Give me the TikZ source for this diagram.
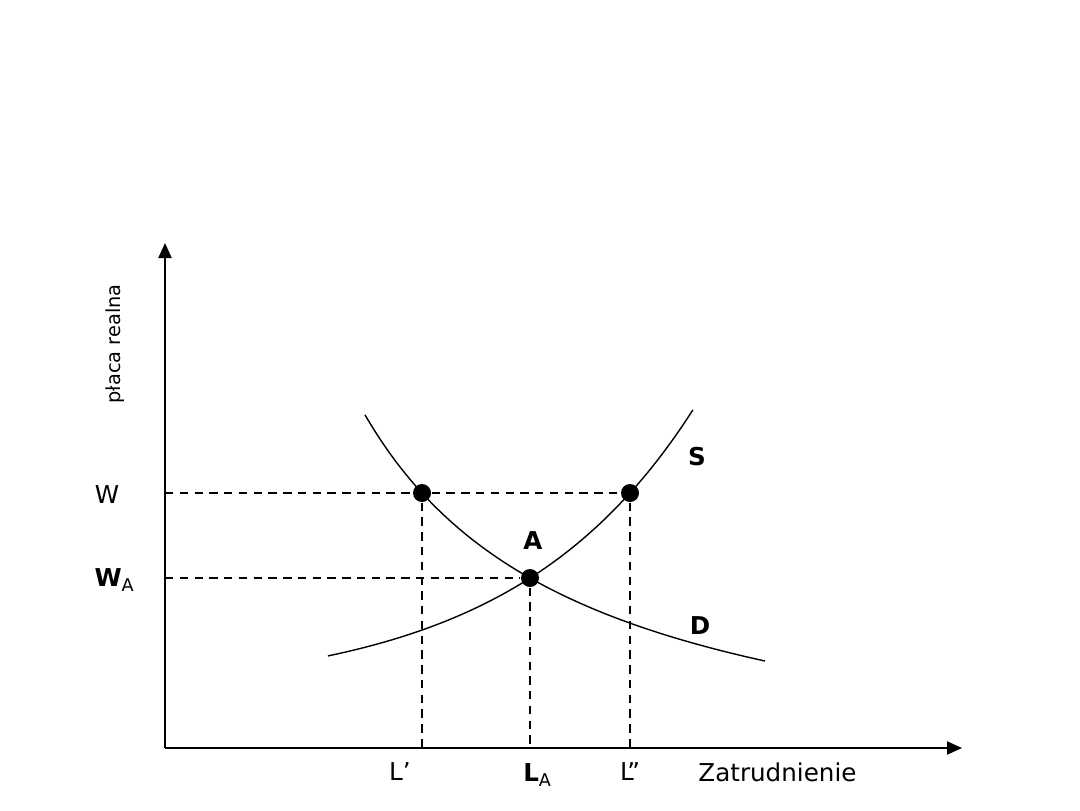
\documentclass[tikz,border=0pt]{standalone}
\usepackage{fontspec}
\setmainfont{DejaVu Sans}
\usetikzlibrary{arrows.meta,positioning}
\tikzset{
  axis/.style={-{Triangle[length=1.5mm,width=1.3mm]}, line width=0.6pt},
  curve/.style={line width=0.4pt, samples=80},
  guide/.style={dash pattern=on 2.4pt off 1.8pt, line width=0.5pt},
  dot/.style={circle, fill, inner sep=0pt, minimum size=1.8mm},
  lbl/.style={font=\fontsize{7}{8}\selectfont},
  blbl/.style={font=\fontsize{7}{8}\selectfont\bfseries},
}

\begin{document}
\begin{tikzpicture}
  \useasboundingbox (0,0) rectangle (10.8,8.1);

  % axes
  \coordinate (O) at (1.65,0.62);
  \coordinate (ytop) at (1.65,5.67);
  \coordinate (xend) at (9.62,0.62);
  \draw[axis] (O) -- (ytop);
  \draw[axis] (O) -- (xend);
  \node[font=\fontsize{5.5}{6}\selectfont, rotate=90] (ylab) at (1.15,4.66) {płaca realna};
  \node[lbl, anchor=west] (xlab) at (6.86,0.38) {Zatrudnienie};

  % demand and supply
  \draw[curve, domain=3.65:7.65] plot (\x,{0.122+8.513/(\x-1.427)});
  \draw[curve, domain=3.28:6.93] plot (\x,{1.159+0.0629*exp(0.55*\x)});
  \node[blbl] (labS) at (6.97,3.53) {S};
  \node[blbl] (labD) at (7.00,1.84) {D};
  \node[blbl] (labA) at (5.33,2.69) {A};

  % equilibrium and the two points at wage W
  \node[dot] (pA) at (5.30,2.32) {};
  \node[dot] (pD) at (4.22,3.17) {};
  \node[dot] (pS) at (6.30,3.17) {};

  % guides to the axes
  \coordinate (yW) at (1.65,3.17);
  \coordinate (yWA) at (1.65,2.32);
  \coordinate (xL1) at (4.22,0.62);
  \coordinate (xLA) at (5.30,0.62);
  \coordinate (xL2) at (6.30,0.62);
  \draw[guide] (yW) -- (pD) -- (pS);
  \draw[guide] (yWA) -- (pA);
  \draw[guide] (pD) -- (xL1);
  \draw[guide] (pA) -- (xLA);
  \draw[guide] (pS) -- (xL2);

  \node[lbl] (labW) at (1.07,3.15) {W};
  \node[lbl] (labWA) at (1.15,2.30) {\textbf{W}\textsubscript{A}};
  \node[lbl] (labL1) at (4.00,0.38) {L’};
  \node[lbl] (labLA) at (5.38,0.35) {\textbf{L}\textsubscript{A}};
  \node[lbl] (labL2) at (6.30,0.38) {L”};
\end{tikzpicture}
\end{document}
